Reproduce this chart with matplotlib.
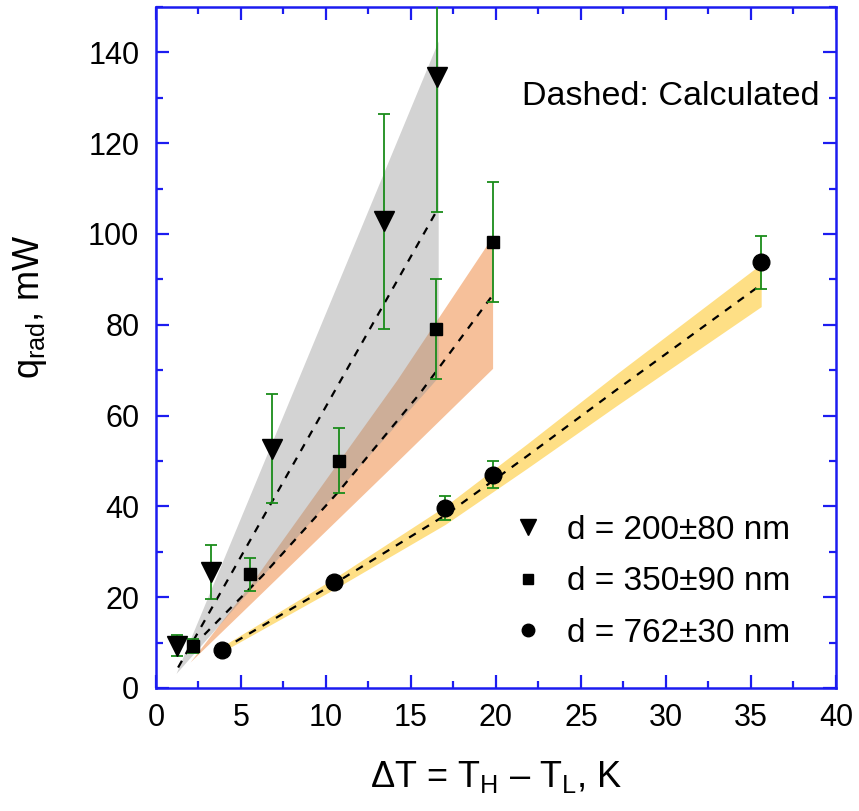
import numpy as np
import matplotlib
matplotlib.use("Agg")
import matplotlib.pyplot as plt
from matplotlib.lines import Line2D
from matplotlib.ticker import MultipleLocator

plt.rcParams["font.family"] = ["Liberation Sans", "DejaVu Sans"]
plt.rcParams["mathtext.fontset"] = "custom"
plt.rcParams["mathtext.rm"] = "Liberation Sans"
plt.rcParams["mathtext.it"] = "Liberation Sans:italic"

# measured points (d = 200, 350, 762 nm)
x_200 = [1.25, 3.25, 6.8, 13.4, 16.55]
y_200 = [9.3, 25.6, 52.7, 102.8, 134.5]
e_200 = [2.3, 6.0, 12.0, 23.7, 29.7]

x_350 = [2.15, 5.53, 10.78, 16.45, 19.8]
y_350 = [9.3, 25.0, 50.1, 79.0, 98.2]
e_350 = [1.5, 3.6, 7.1, 11.0, 13.2]

x_762 = [3.86, 10.5, 17.0, 19.8, 35.6]
y_762 = [8.3, 23.4, 39.6, 47.0, 93.8]
e_762 = [0.5, 1.0, 2.6, 3.0, 5.85]

# calculated curves
calc_x_200 = [1.3, 16.5]
calc_y_200 = [4.5, 105.0]
calc_x_350 = [2.2, 6.31, 10.73, 15.53, 19.7]
calc_y_350 = [9.3, 24.9, 43.2, 64.9, 86.0]
calc_x_762 = [3.9, 10.5, 17.0, 21.8, 27.1, 35.4]
calc_y_762 = [8.5, 23.0, 38.0, 51.0, 65.7, 88.3]

# uncertainty bands
band_x_200 = [1.18, 16.6]
band_lo_200 = [3.2, 68.5]
band_hi_200 = [3.2, 142.5]
band_x_350 = [2.0, 5.73, 14.16, 19.8]
band_lo_350 = [5.7, 19.2, 49.8, 70.4]
band_hi_350 = [5.7, 23.7, 67.8, 99.5]
band_x_762 = [3.86, 10.5, 17.0, 21.8, 27.1, 35.6]
band_lo_762 = [7.9, 21.8, 36.0, 48.3, 62.2, 84.0]
band_hi_762 = [9.1, 24.2, 40.0, 53.7, 69.2, 93.4]

labels = ["d = 200\u00b180 nm", "d = 350\u00b190 nm", "d = 762\u00b130 nm"]

blue = "#1c1cf0"
green = "#1a8c1a"

fig = plt.figure(figsize=(8.59, 8.11), dpi=100)
ax = fig.add_axes([0.1816, 0.1517, 0.7916, 0.8397])

ax.fill_between(band_x_350, band_lo_350, band_hi_350, color="#f6c09a", lw=0, zorder=1)
ax.fill_between(band_x_200, band_lo_200, band_hi_200, color="#969696", alpha=0.42, lw=0, zorder=2)
ax.fill_between(band_x_762, band_lo_762, band_hi_762, color="#fedf85", lw=0, zorder=1)

for cx, cy in [(calc_x_200, calc_y_200), (calc_x_350, calc_y_350), (calc_x_762, calc_y_762)]:
    ax.plot(cx, cy, color="black", lw=1.6, ls=(0, (3.5, 3.5)), zorder=3)

for x, y, e in [(x_200, y_200, e_200), (x_350, y_350, e_350), (x_762, y_762, e_762)]:
    ax.errorbar(x, y, yerr=e, fmt="none", ecolor=green, elinewidth=1.3,
                capsize=4, capthick=1.3, zorder=4)

ax.plot(x_200, y_200, "v", color="black", ms=15, ls="none", zorder=5)
ax.plot(x_350, y_350, "s", color="black", ms=9, ls="none", zorder=5)
ax.plot(x_762, y_762, "o", color="black", ms=12, ls="none", zorder=5)

ax.set_xlim(0, 40)
ax.set_ylim(0, 150)
ax.xaxis.set_major_locator(MultipleLocator(5))
ax.xaxis.set_minor_locator(MultipleLocator(2.5))
ax.yaxis.set_major_locator(MultipleLocator(20))
ax.yaxis.set_minor_locator(MultipleLocator(10))
ax.tick_params(which="both", direction="in", top=True, right=True,
               color=blue, width=1.6, labelsize=22)
ax.tick_params(which="major", length=9.5)
ax.tick_params(which="minor", length=5)
ax.tick_params(axis="x", pad=11)
ax.tick_params(axis="y", pad=12)
for s in ax.spines.values():
    s.set_color(blue)
    s.set_linewidth(1.8)

ax.set_xlabel("\u0394T = T$_\\mathrm{H}$ \u2013 T$_\\mathrm{L}$, K", fontsize=26)
ax.xaxis.set_label_coords(0.5, -0.104)
ax.set_ylabel("q$_\\mathrm{rad}$, mW", fontsize=26)
ax.yaxis.set_label_coords(-0.158, 0.56)

ax.text(0.976, 0.868, "Dashed: Calculated", transform=ax.transAxes,
        ha="right", va="center", fontsize=24.5)

handles = [
    Line2D([], [], marker="v", color="black", ls="none", ms=11),
    Line2D([], [], marker="s", color="black", ls="none", ms=7),
    Line2D([], [], marker="o", color="black", ls="none", ms=9),
]
ax.legend(handles, labels, loc="lower right", bbox_to_anchor=(0.962, 0.028),
          frameon=False, fontsize=24, labelspacing=0.62, handletextpad=0.55,
          handlelength=1.2, borderaxespad=0.2)

fig.savefig("out.png", dpi=100)
